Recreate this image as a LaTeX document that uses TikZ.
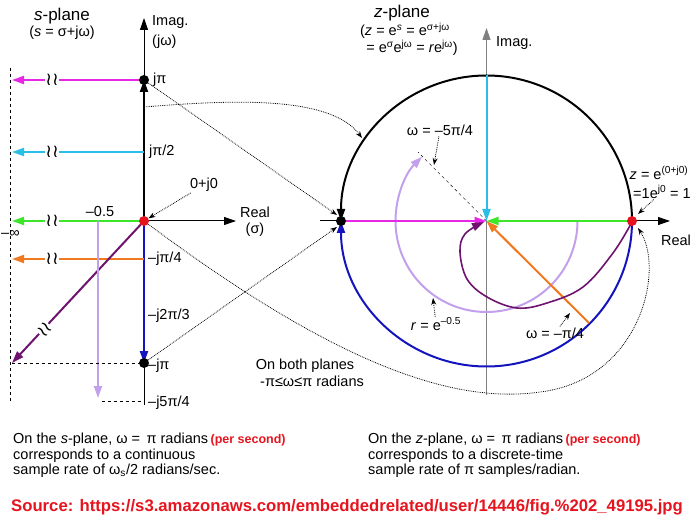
\documentclass[tikz,border=0pt]{standalone}
\usepackage{fontspec}
\setmainfont{Liberation Sans}
\newfontfamily\djv{DejaVu Sans}
\usetikzlibrary{arrows.meta}
\definecolor{cmag}{RGB}{230,40,230}
\definecolor{ccyan}{RGB}{40,190,230}
\definecolor{cgreen}{RGB}{60,230,40}
\definecolor{corange}{RGB}{240,120,30}
\definecolor{cblue}{RGB}{20,20,190}
\definecolor{cpurp}{RGB}{110,20,110}
\definecolor{clpurp}{RGB}{195,160,235}
\definecolor{cred}{RGB}{230,20,30}
\tikzset{
 tip/.style={-{Triangle[length=12pt,width=8pt]}},
 thick2/.style={line width=2pt},
 dots/.style={densely dotted,line width=0.8pt,-{Stealth[length=7pt,width=5pt]}},
 lbl/.style={inner sep=1pt,font=\fontsize{14.5}{16}\selectfont},
 brk/.style={fill=white,inner sep=0pt,font=\djv\fontsize{18}{18}\selectfont},
 dotb/.style={circle,fill=black,inner sep=0pt,minimum size=10pt},
 dotr/.style={circle,fill=cred,inner sep=0pt,minimum size=10pt},
}
\begin{document}
\begin{tikzpicture}[x=1pt,y=-1pt]
\useasboundingbox (0,0) rectangle (700,526);
% ---------- s-plane
\coordinate (O) at (144,221);
\coordinate (jpi) at (144,80);
\coordinate (jpi2) at (144,152);
\coordinate (mjpi4) at (144,259);
\coordinate (mjpi) at (144,363);
\coordinate (ax1) at (144,18);
\coordinate (ax0) at (144,405);
\coordinate (rx) at (236,221);
\coordinate (inf1) at (10,68);
\coordinate (inf2) at (10,402);
\draw[line width=1pt] (ax0) -- (mjpi);
\draw[line width=1pt,tip] (O) -- (ax1);
\draw[line width=1pt,tip] (O) -- (rx);
\node[anchor=west,inner sep=1pt,fill=white,font=\fontsize{14.5}{16}\selectfont] (t11) at (0,234) {–∞};
\draw[dashed] (inf1) -- (inf2);
\draw[thick2,tip] (O) -- (jpi);
\draw[thick2,cblue,tip] (O) -- (mjpi);
\coordinate (L1) at (12,80);\coordinate (L2) at (12,152);\coordinate (L3) at (12,221);\coordinate (L4) at (12,259);\coordinate (L5) at (12,363);
\draw[thick2,cmag,tip] (jpi) -- (L1);
\draw[thick2,ccyan,tip] (jpi2) -- (L2);
\draw[thick2,cgreen,tip] (O) -- (L3);
\draw[thick2,corange,tip] (mjpi4) -- (L4);
\draw[thick2,cpurp,tip] (O) -- (L5);
\coordinate (lp1) at (98,221);\coordinate (lp2) at (98,398);
\draw[thick2,clpurp,tip] (lp1) -- (lp2);
\draw[dashed] (L5) -- (mjpi);
\coordinate (d1) at (102,401);\coordinate (d2) at (144,401);
\draw[dashed] (d1) -- (d2);
\foreach \y/\n in {80/a,152/b,221/c,259/d} \node[brk] (b\n) at (52,\y) {≀≀};
\node[brk,rotate=45] (be) at (45,330) {≀≀};
\node[dotb] (Pjpi) at (jpi) {};
\node[dotb] (Pmjpi) at (mjpi) {};
\node[dotr] (PO) at (O) {};
% labels
\node[lbl,font=\fontsize{17}{18}\selectfont] (sp) at (62,16) {\textit{s}-plane};
\node[lbl] (sp2) at (62,33) {(\textit{s} = σ+jω)};
\node[lbl,anchor=west] (im) at (151,22) {Imag.};
\node[lbl,anchor=west] (im2) at (151,42) {(jω)};
\node[lbl,anchor=west] (t1) at (152,80) {jπ};
\node[lbl,anchor=west] (t2) at (148,152) {jπ/2};
\node[lbl,anchor=west] (t3) at (147,259) {–jπ/4};
\node[lbl,anchor=west] (t4) at (147,316) {–j2π/3};
\node[lbl,anchor=west] (t5) at (147,366) {–jπ};
\node[lbl,anchor=west] (t6) at (147,403) {–j5π/4};
\node[lbl] (t7) at (100,212) {–0.5};
\node[lbl] (t8) at (204,185) {0+j0};
\node[lbl] (t9) at (255,212) {Real};
\node[lbl] (t10) at (255,230) {(σ)};
\node[lbl] (t12) at (305,366) {On both planes};
\node[lbl] (t13) at (312,381) {-π≤ω≤π radians};
\draw[dots] (t8) -- (PO);
% ---------- z-plane
\coordinate (C) at (486.5,221);
\coordinate (ZL) at (341,221);
\coordinate (ZR) at (632,221);
\coordinate (ZT) at (486.5,75);
\coordinate (zi0) at (486.5,395);
\coordinate (zi1) at (486.5,28);
\coordinate (zr0) at (320,221);
\coordinate (zr1) at (670,221);
\draw[line width=1pt] (zr0) -- (ZL);
\draw[line width=1pt,tip] (ZR) -- (zr1);
\draw[gray,line width=1.2pt] (zi0) -- (C);
\draw[gray,line width=1.2pt,tip] (ZT) -- (zi1);
\draw[thick2,clpurp,tip] (577.5,221) arc[start angle=0,end angle=225,radius=91];
\coordinate (dl) at (418,152);
\draw[dashed] (C) -- (dl);
\draw[thick2,tip] (ZR) arc[start angle=0,end angle=-180,radius=145.5];
\draw[thick2,cblue,tip] (ZR) arc[start angle=0,end angle=180,radius=145.5];
\draw[thick2,cmag,tip] (ZL) -- (C);
\draw[thick2,cgreen,tip] (ZR) -- (C);
\draw[thick2,ccyan,tip] (ZT) -- (C);
\coordinate (OR) at (589,323);
\draw[thick2,corange,tip] (OR) -- (C);
\draw[line width=1.6pt,cpurp,tip] plot[smooth,tension=0.6] coordinates {(632,222) (613,253) (583,287) (547,303) (517,308) (487,297) (467,279) (460,252) (465,234) (484,222)};
\node[dotb] (PZL) at (ZL) {};
\node[dotr] (PZR) at (ZR) {};
\node[lbl,font=\fontsize{17}{18}\selectfont] (zp) at (402,13) {\textit{z}-plane};
\node[lbl] (zp2) at (405,31) {(\textit{z} = e\textsuperscript{\textit{s}} = e\textsuperscript{σ+jω}};
\node[lbl] (zp3) at (412,48) {= e\textsuperscript{σ}e\textsuperscript{jω} = \textit{r}e\textsuperscript{jω})};
\node[lbl,anchor=west] (zim) at (495,43) {Imag.};
\node[lbl] (zre) at (676,240) {Real};
\node[lbl] (z1) at (659,173) {\textit{z} = e\textsuperscript{(0+j0)}};
\node[lbl] (z2) at (662,192) {=1e\textsuperscript{j0} = 1};
\node[lbl] (w1) at (440,130) {ω = –5π/4};
\node[lbl] (w2) at (555,333) {ω = –π/4};
\node[lbl] (rr) at (436,324) {\textit{r} = e\textsuperscript{–0.5}};
\coordinate (w1t) at (434,165);
\draw[dots] (w1) -- (w1t);
\coordinate (w2t) at (570,313);
\draw[dots] (w2) -- (w2t);
\coordinate (rrt) at (433,298);
\draw[dots] (rr) -- (rrt);
\coordinate (z2t) at (638,214);
\draw[dots] (z2) -- (z2t);
% connectors between planes
\coordinate (s107) at (144,107);
\coordinate (arcpt) at (362,138);
\coordinate (zlT) at (337,215);
\coordinate (zlB) at (337,227);
\coordinate (zrB) at (638,228);
\draw[dots] (Pjpi) -- (zlT);
\draw[dots] (Pmjpi) -- (zlB);
\draw[dots] (s107) .. controls (230,100) and (330,95) .. (arcpt);
\draw[dots] (PO) .. controls (330,360) and (450,405) .. (540,392) .. controls (640,380) and (665,270) .. (zrB);
% ---------- bottom text
\node[lbl,anchor=north west,align=left,font=\fontsize{14.5}{15.5}\selectfont] (bl) at (12,432) {On the \textit{s}-plane, ω = \,π radians\,{\color{cred}\fontsize{12.5}{13}\selectfont\bfseries (per second)}\\corresponds to a continuous\\sample rate of ω\textsubscript{s}/2 radians/sec.};
\node[lbl,anchor=north west,align=left,font=\fontsize{14.5}{15.5}\selectfont] (br) at (367,432) {On the \textit{z}-plane, ω = \,π radians\,{\color{cred}\fontsize{12.5}{13}\selectfont\bfseries (per second)}\\corresponds to a discrete-time\\sample rate of π samples/radian.};
\node[lbl,anchor=west,text=cred,font=\fontsize{16.7}{19}\selectfont\bfseries] (src) at (10,507) {Source: https://s3.amazonaws.com/embeddedrelated/user/14446/fig.\%202\_49195.jpg};
\end{tikzpicture}
\end{document}
